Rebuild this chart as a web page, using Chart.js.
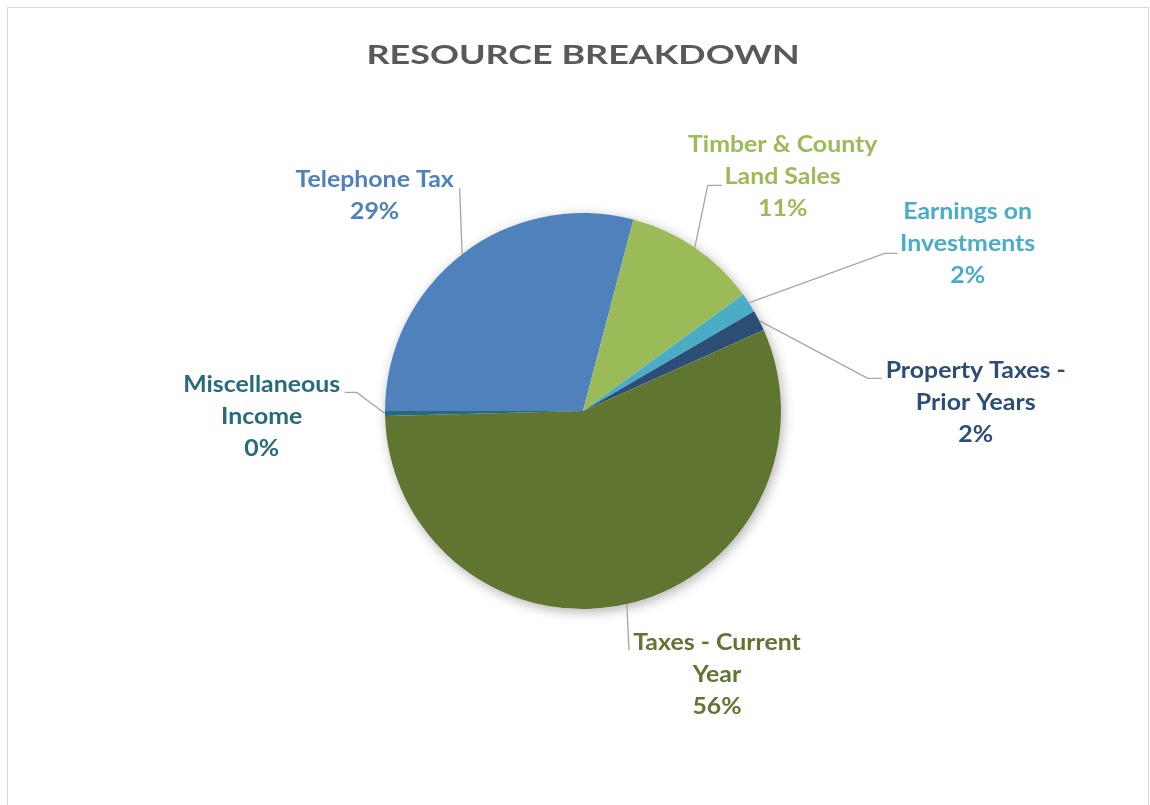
<!DOCTYPE html>
<html>
<head>
<meta charset="utf-8">
<title>Resource Breakdown</title>
<script src="https://cdn.jsdelivr.net/npm/chart.js@4"></script>
<style>
  html, body { margin: 0; padding: 0; background: #fff; overflow: hidden; }
  #frame {
    position: absolute; left: 7px; top: 7px;
    width: 1140px; height: 820px;
    border: 1px solid #d9d9d9;
  }
  #frame canvas { display: block; }
</style>
</head>
<body>
<div id="frame"><canvas id="resourcePie" width="1140" height="797"></canvas></div>
<script>
const chartTitle = 'RESOURCE BREAKDOWN';
const categories = [
    ['Telephone Tax'],
    ['Timber & County', 'Land Sales'],
    ['Earnings on', 'Investments'],
    ['Property Taxes -', 'Prior Years'],
    ['Taxes - Current', 'Year'],
    ['Miscellaneous', 'Income']
];
const shares = [29.1, 10.9, 1.6, 1.7, 56.3, 0.4];
const sliceColors = ['#4F81BD', '#9BBB59', '#4BACC6', '#2C4D75', '#5F7530', '#276A7C'];

// where each callout sits, relative to the outer midpoint of its slice
const calloutLayout = [
    { text: [-87.5, -73.8], elbow: [-2.5, -65.8], tail: [-2.5, -65.8] },
    { text: [87.9, -102.3], elbow: [12.9, -62.3], tail: [26.9, -62.3] },
    { text: [218.8, -90.5], elbow: [135.8, -49.5], tail: [148.8, -49.5] },
    { text: [216.6, 50.8], elbow: [108.6, 57.8], tail: [122.6, 57.8] },
    { text: [90.2, 39.1], elbow: [2.2, 46.1], tail: [2.2, 46.1] },
    { text: [-123.3, -28.1], elbow: [-28.3, -21.1], tail: [-40.3, -21.1] }
];

// text drawn a bit wider than the font's natural width
function wideText(ctx, text, x, y, stretch) {
    ctx.save();
    ctx.translate(x, y);
    ctx.scale(stretch, 1);
    ctx.fillText(text, 0, 0);
    ctx.restore();
}

const titleBlock = {
    id: 'titleBlock',
    afterDraw(chart) {
        const ctx = chart.ctx;
        const area = chart.chartArea;
        ctx.save();
        ctx.fillStyle = '#595959';
        ctx.font = 'bold 27px Lato';
        ctx.textAlign = 'center';
        ctx.textBaseline = 'middle';
        wideText(ctx, chartTitle, (area.left + area.right) / 2, 47, 1.33);
        ctx.restore();
    }
};

// soft drop shadow under the whole pie
const pieShadow = {
    id: 'pieShadow',
    beforeDatasetsDraw(chart) {
        const arc = chart.getDatasetMeta(0).data[0];
        if (!arc) return;
        const ctx = chart.ctx;
        ctx.save();
        ctx.shadowColor = 'rgba(0, 0, 0, 0.3)';
        ctx.shadowBlur = 12;
        ctx.shadowOffsetX = 2;
        ctx.shadowOffsetY = 3;
        ctx.fillStyle = '#ffffff';
        ctx.beginPath();
        ctx.arc(arc.x, arc.y, arc.outerRadius, 0, Math.PI * 2);
        ctx.fill();
        ctx.restore();
    }
};

// category name + percentage with a grey leader line
const callouts = {
    id: 'callouts',
    afterDatasetsDraw(chart) {
        const ctx = chart.ctx;
        const data = chart.data.datasets[0].data;
        const total = data.reduce((acc, curr) => acc + curr, 0);
        chart.getDatasetMeta(0).data.forEach((arc, i) => {
            const mid = (arc.startAngle + arc.endAngle) / 2;
            const ax = arc.x + Math.cos(mid) * arc.outerRadius;
            const ay = arc.y + Math.sin(mid) * arc.outerRadius;
            const p = calloutLayout[i];

            ctx.save();
            ctx.strokeStyle = '#a6a6a6';
            ctx.lineWidth = 1.3;
            ctx.beginPath();
            ctx.moveTo(ax, ay);
            ctx.lineTo(ax + p.elbow[0], ay + p.elbow[1]);
            ctx.lineTo(ax + p.tail[0], ay + p.tail[1]);
            ctx.stroke();

            const lines = categories[i].concat(Math.round(data[i] / total * 100) + '%');
            ctx.fillStyle = sliceColors[i];
            ctx.font = 'bold 22px Lato';
            ctx.textAlign = 'center';
            ctx.textBaseline = 'middle';
            lines.forEach((line, k) => {
                wideText(ctx, line, ax + p.text[0], ay + p.text[1] + k * 32, 1.13);
            });
            ctx.restore();
        });
    }
};

const ctx1 = document.getElementById('resourcePie').getContext('2d');

const resourceChart = new Chart(ctx1, {
    type: 'pie',
    data: {
        labels: categories,
        datasets: [{
            data: shares,
            backgroundColor: sliceColors,
            borderWidth: 0
        }]
    },
    options: {
        responsive: false,
        animation: false,
        devicePixelRatio: 1,
        rotation: 270,
        layout: {
            padding: { left: 377, right: 367, top: 205, bottom: 196 }
        },
        plugins: {
            legend: { display: false },
            tooltip: { enabled: false },
            title: { display: false }
        }
    },
    plugins: [pieShadow, callouts, titleBlock]
});
</script>
</body>
</html>
